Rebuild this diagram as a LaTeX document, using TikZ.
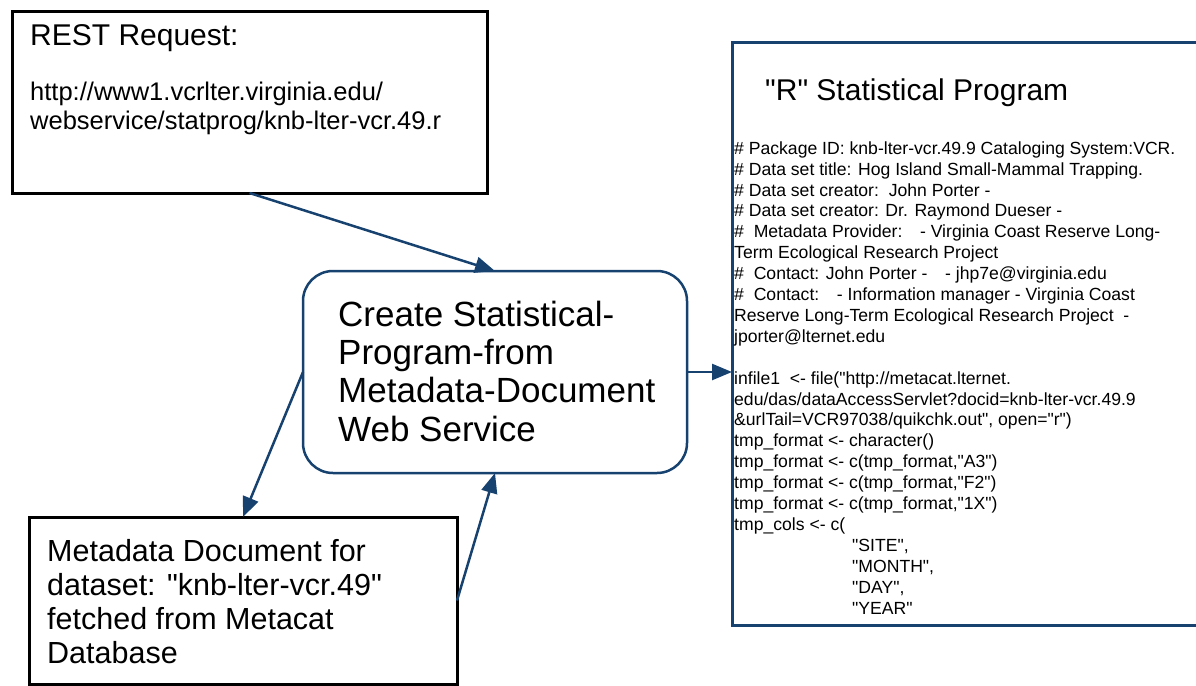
\documentclass[tikz,border=0pt]{standalone}
\usepackage{fontspec}
\setmainfont{Liberation Sans}[Ligatures=TeXOff]
\usetikzlibrary{arrows.meta,calc}
\definecolor{navy}{HTML}{17426F}
\newcommand\codefont{\fontsize{17.6}{20.9}\selectfont}

\begin{document}
\begin{tikzpicture}[x=1pt,y=-1pt,>={Triangle[length=20pt,width=16pt]}]
\tikzset{box/.style={draw=black,line width=3pt,inner sep=0pt,outer sep=0pt},
link/.style={->,draw=navy,fill=navy,line width=2.5pt},
txt/.style={anchor=base west,align=left,inner sep=0pt}}
\useasboundingbox (0,0) rectangle (1196,685);
\clip (0,0) rectangle (1196,685);
% boxes
\node[box,minimum width=475pt,minimum height=181pt] (rest) at (249.5,102.5){};
\node[box,minimum width=428pt,minimum height=167pt] (meta) at (243,600.5){};
\node[box,draw=navy,line width=2.5pt,rounded corners=30pt,minimum width=384pt,minimum height=202pt] (svc) at (495,372){};
\node[box,draw=navy,minimum width=498pt,minimum height=582pt] (prog) at (981,334){};
% texts (anchored at the baseline of the last line)
\node[txt,font=\fontsize{30}{36}\selectfont] (resttitle) at (30,46){REST Request:};
\node[txt,font=\fontsize{25.5}{29}\selectfont] (resturl) at (30,129){http://www1.vcrlter.virginia.edu/\\webservice/statprog/knb-lter-vcr.49.r};
\node[txt,font=\fontsize{35}{38.2}\selectfont] (svctext) at (338,441){Create Statistical-\\Program-from\\Metadata-Document\\Web Service};
\node[txt,font=\fontsize{30.5}{33.8}\selectfont] (metatext) at (47,663){Metadata Document for\\dataset: "knb-lter-vcr.49"\\fetched from Metacat\\Database};
\node[txt,font=\fontsize{30}{36}\selectfont] (progtitle) at (765,100){"R" Statistical Program};
\node[txt,font=\codefont] (progcode) at (734,614){%
\# Package ID: knb-lter-vcr.49.9 Cataloging System:VCR.\\
\# Data set title: Hog Island Small-Mammal Trapping.\\
\# Data set creator:\ \ John Porter -\\
\# Data set creator: Dr. Raymond Dueser -\\
\#\ \ Metadata Provider:\quad - Virginia Coast Reserve Long-\\
Term Ecological Research Project\\
\#\ \ Contact: John Porter -\quad - jhp7e@virginia.edu\\
\#\ \ Contact:\quad - Information manager - Virginia Coast\\
Reserve Long-Term Ecological Research Project\ \ -\\
jporter@lternet.edu\\[20.9pt]
infile1\ \ <- file("http://metacat.lternet.\\
edu/das/dataAccessServlet?docid=knb-lter-vcr.49.9\\
\&urlTail=VCR97038/quikchk.out", open="r")\\
tmp\_format <- character()\\
tmp\_format <- c(tmp\_format,"A3")\\
tmp\_format <- c(tmp\_format,"F2")\\
tmp\_format <- c(tmp\_format,"1X")\\
tmp\_cols <- c(\\
\hspace*{118pt}"SITE",\\
\hspace*{118pt}"MONTH",\\
\hspace*{118pt}"DAY",\\
\hspace*{118pt}"YEAR"};
% connectors
\draw[link] (rest.south) -- (svc.north);
\draw[link] (svc.east) -- (svc.east -| prog.west);
\draw[link] (svc.west) -- (meta.north);
\draw[link] (meta.east) -- (svc.south);
\end{tikzpicture}
\end{document}
